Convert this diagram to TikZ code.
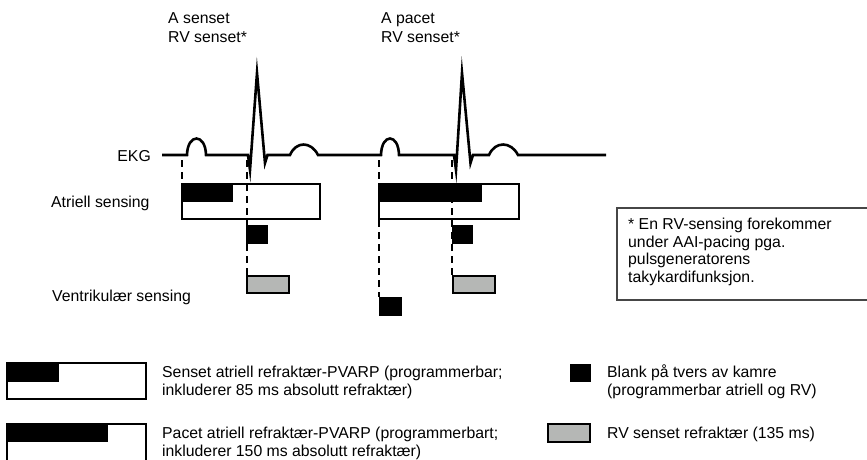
\documentclass[tikz,border=0pt]{standalone}
\usepackage{fontspec}
\setmainfont{Liberation Sans}
\definecolor{rvgray}{RGB}{181,183,181}
\definecolor{notegray}{RGB}{70,70,70}
\begin{document}
\begin{tikzpicture}[x=1pt,y=-1pt,
  font=\fontsize{15.8}{18.5}\selectfont,
  lbl/.style={anchor=base west, inner sep=0pt},
  frame/.style={draw=black, line width=2pt, fill=white},
  blk/.style={fill=black},
  rvbox/.style={draw=black, line width=2pt, fill=rvgray},
  dsh/.style={line width=2pt, dash pattern=on 7pt off 5pt},
  ekg/.style={line width=2.6pt, line join=miter, miter limit=20}]
\useasboundingbox (0,0) rectangle (867,459);

% top labels
\node[lbl] (as1) at (168,23) {A senset};
\node[lbl] (rv1) at (168,42) {RV senset*};
\node[lbl] (ap2) at (381,23) {A pacet};
\node[lbl] (rv2) at (381,42) {RV senset*};

% row labels
\node[anchor=base east, inner sep=0pt] (ekglbl) at (151,161.5) {EKG};
\node[lbl] (atlbl) at (51,207) {Atriell sensing};
\node[lbl] (vtlbl) at (52,301.5) {Ventrikulær sensing};

% ECG trace
\draw[ekg] (162,155) -- (187,155)
  .. controls (187.5,133) and (205.5,133) .. (206,155)
  -- (248,155) -- (250,170) -- (257,73) -- (265,163) -- (267.5,155)
  -- (290,155) .. controls (296,141) and (311,141) .. (318,155)
  -- (381,155) .. controls (381.5,133) and (398.5,133) .. (399,155)
  -- (454,155) -- (456,170) -- (462,73) -- (470.5,163) -- (473,155)
  -- (489,155) .. controls (495,141) and (511,141) .. (518,155)
  -- (606,155);

% atrial sensing windows
\draw[frame] (182,184) rectangle (320,219);
\fill[blk] (182,184) rectangle (233,202);
\draw[frame] (379,184) rectangle (519,219);
\fill[blk] (379,184) rectangle (482,202);

% cross-chamber blanks
\fill[blk] (246,225) rectangle (268,244);
\fill[blk] (452,225) rectangle (473,244);
\fill[blk] (379,297) rectangle (402,316);

% RV sensed refractory
\draw[rvbox] (247,276) rectangle (289,293);
\draw[rvbox] (453,276) rectangle (495,293);

% event markers
\coordinate (m1t) at (182,160);
\coordinate (m1b) at (182,184);
\coordinate (m2t) at (247,160);
\coordinate (m2b) at (247,276);
\coordinate (m3t) at (379,160);
\coordinate (m3b) at (379,297);
\coordinate (m4t) at (452,160);
\coordinate (m4b) at (452,276);
\draw[dsh] (m1t) -- (m1b);
\draw[dsh] (m2t) -- (m2b);
\draw[dsh] (m3t) -- (m3b);
\draw[dsh] (m4t) -- (m4b);

% footnote box
\draw[notegray, line width=1.2pt] (617,208) rectangle (872,300);
\node[lbl] (n1) at (628,229.5) {* En RV-sensing forekommer};
\node[lbl] (n2) at (628,247) {under AAI-pacing pga.};
\node[lbl] (n3) at (628,264.5) {pulsgeneratorens};
\node[lbl] (n4) at (628,282) {takykardifunksjon.};

% legend
\draw[frame] (7,363) rectangle (146,399);
\fill[blk] (7,363) rectangle (59,382);
\node[lbl] (l1a) at (162,377) {Senset atriell refraktær-PVARP (programmerbar;};
\node[lbl] (l1b) at (162,395) {inkluderer 85 ms absolutt refraktær)};

\draw[frame] (7,424) rectangle (146,462);
\fill[blk] (7,424) rectangle (108,442);
\node[lbl] (l2a) at (162,438) {Pacet atriell refraktær-PVARP (programmerbart;};
\node[lbl] (l2b) at (162,456) {inkluderer 150 ms absolutt refraktær)};

\fill[blk] (570,364) rectangle (591,382);
\node[lbl] (l3a) at (607,377) {Blank på tvers av kamre};
\node[lbl] (l3b) at (607,395) {(programmerbar atriell og RV)};

\draw[rvbox] (548,424) rectangle (590,442);
\node[lbl] (l4) at (607,438) {RV senset refraktær (135 ms)};
\end{tikzpicture}
\end{document}
